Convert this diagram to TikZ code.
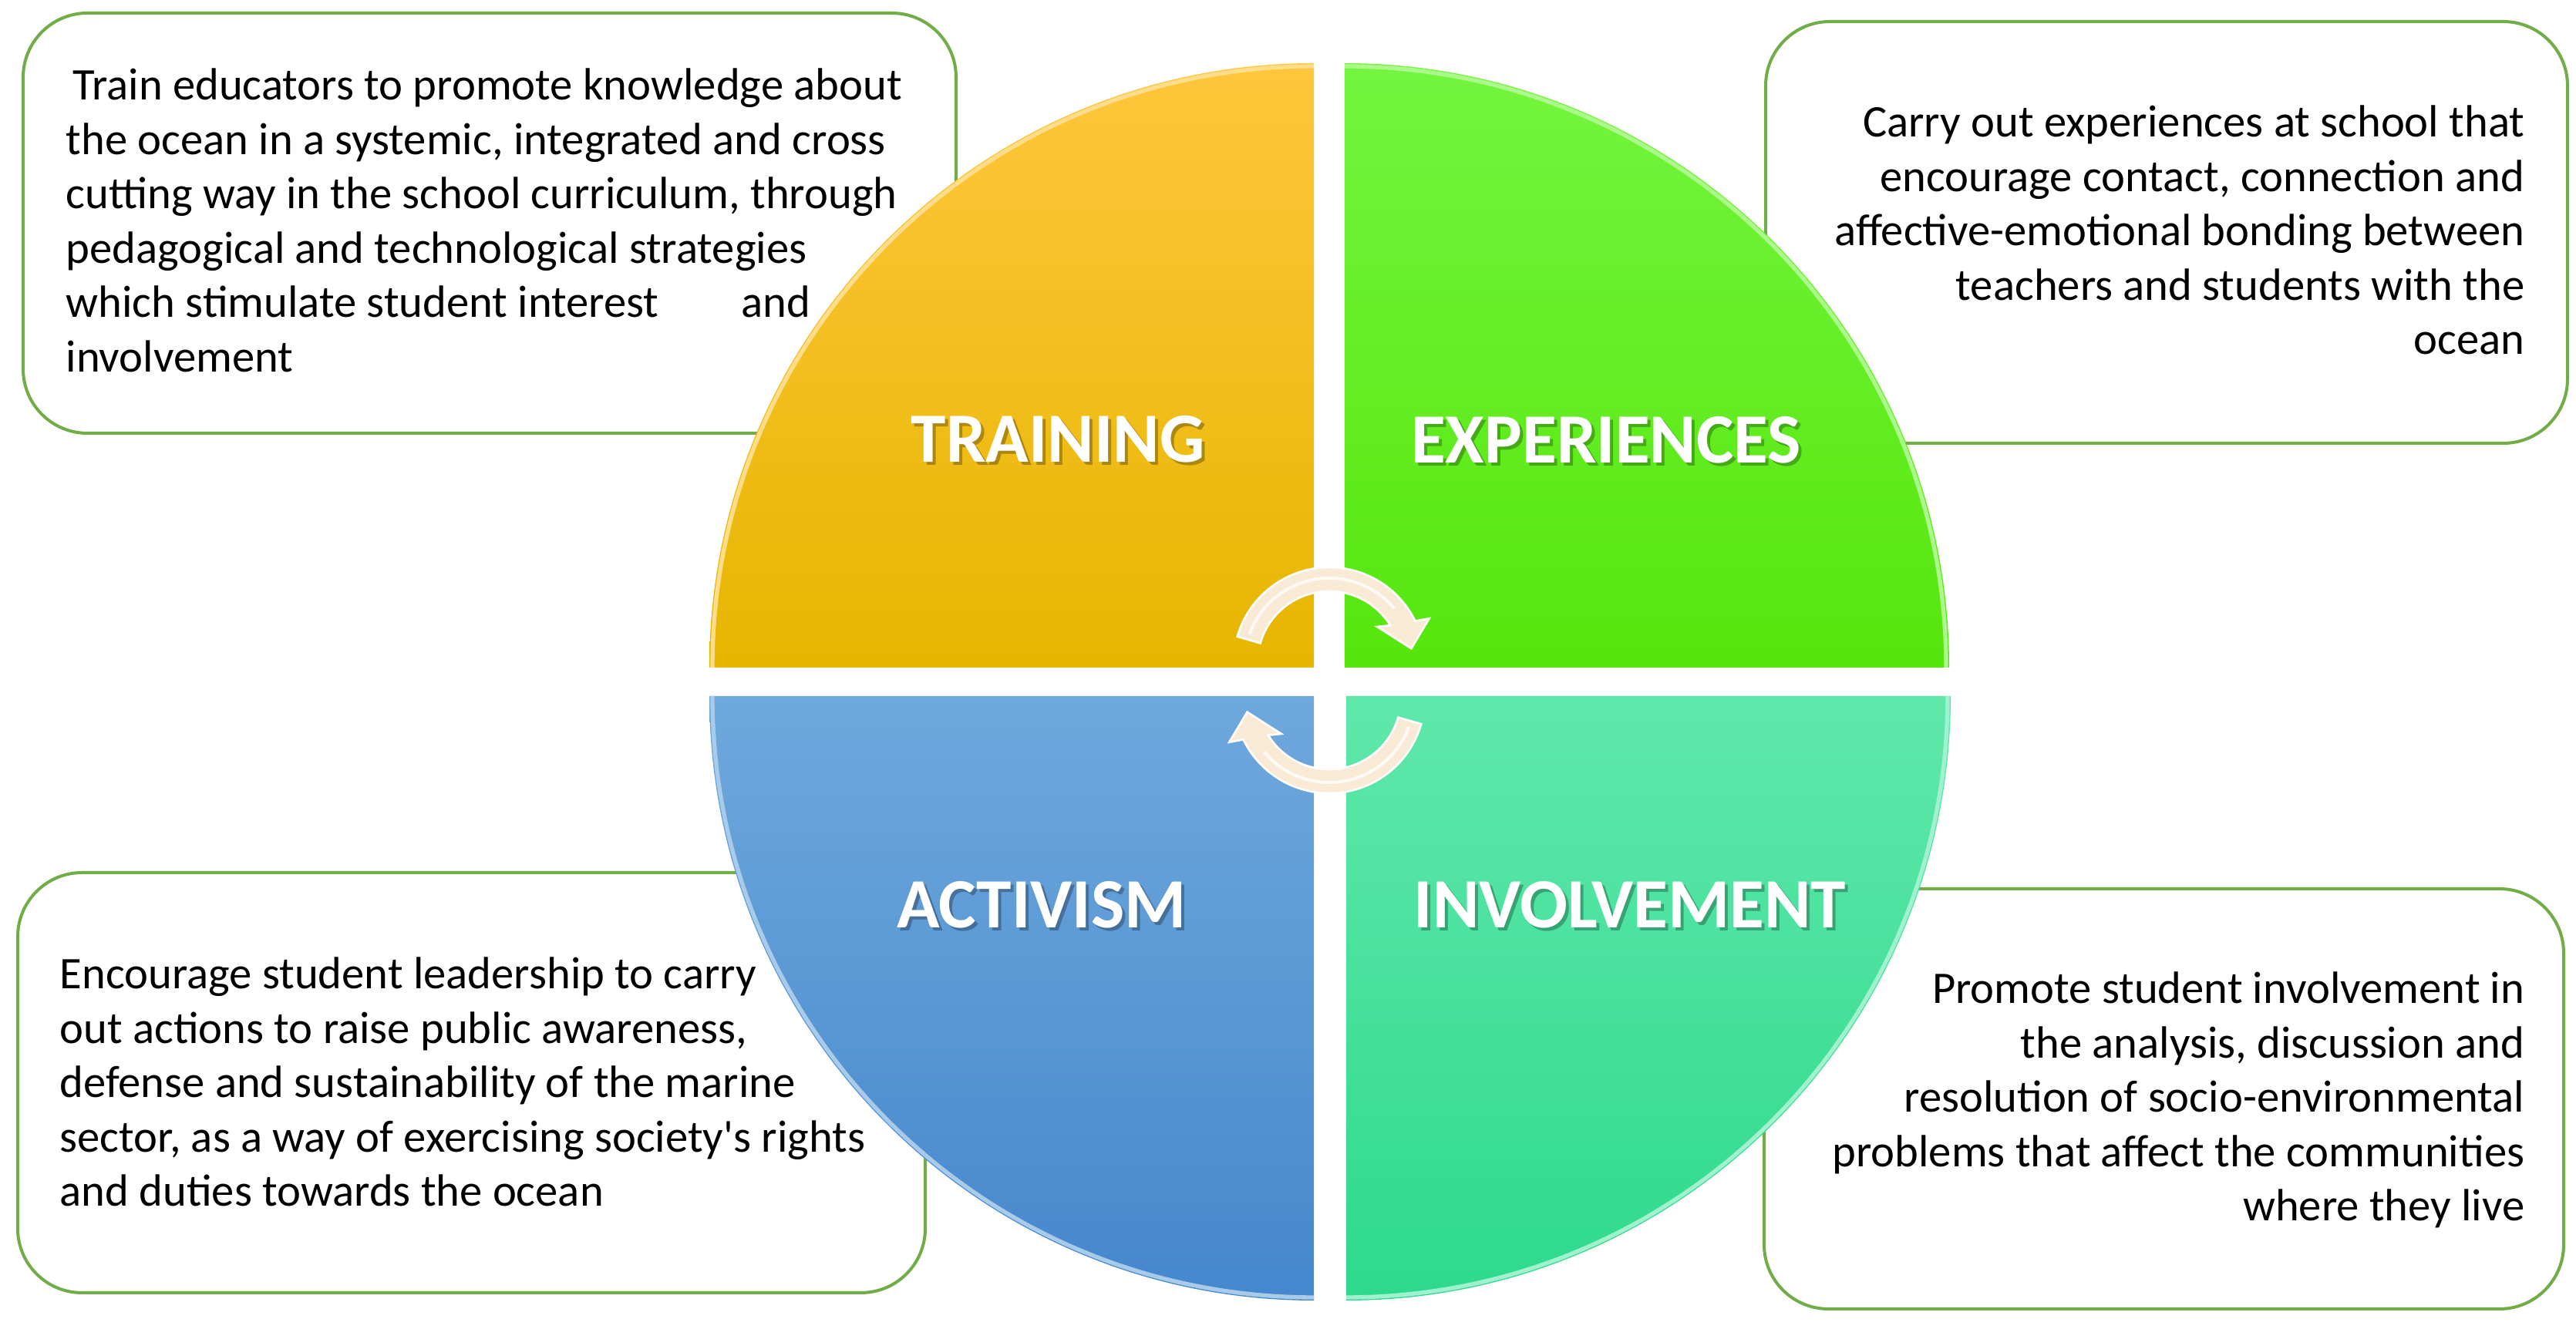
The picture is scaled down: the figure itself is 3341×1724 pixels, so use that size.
\documentclass[tikz,border=0pt]{standalone}
\usepackage{fontspec}
\setmainfont{Carlito}
\usetikzlibrary{calc}
\definecolor{boxgreen}{HTML}{70AD47}
\definecolor{ytop}{HTML}{FFC63C}
\definecolor{ymid}{HTML}{FFC108}
\definecolor{ybot}{HTML}{E6B600}
\definecolor{gtop}{HTML}{74F53E}
\definecolor{gmid}{HTML}{5EEE1E}
\definecolor{gbot}{HTML}{55E60C}
\definecolor{btop}{HTML}{6FA8DC}
\definecolor{bmid}{HTML}{5A9CDA}
\definecolor{bbot}{HTML}{4587CD}
\definecolor{ttop}{HTML}{60E8AB}
\definecolor{tmid}{HTML}{42E39C}
\definecolor{tbot}{HTML}{2DD98C}
\definecolor{cream}{HTML}{F9EAD5}
\tikzset{
  infobox/.style={draw=boxgreen, line width=1.2pt, rounded corners=25pt, fill=white},
  bodytext/.style={inner sep=0pt, text=black, font=\fontsize{17.6pt}{21.15pt}\selectfont},
  quadlabel/.style={inner sep=0pt, text=white, font=\fontsize{27.5pt}{31pt}\selectfont\bfseries},
  quadshadow/.style={inner sep=0pt, text=black, text opacity=0.28, font=\fontsize{27.5pt}{31pt}\selectfont\bfseries},
  cyclearrow/.style={fill=cream, draw=white, line width=0.8pt},
  arrowshadow/.style={fill=black, opacity=0.18},
}
\begin{document}
\begin{tikzpicture}[x=0.3pt,y=0.3pt]
\useasboundingbox (0,0) rectangle (3341,1724);
\fill[white] (0,0) rectangle (3341,1724);

% text boxes (behind the circle)
\draw[infobox] (30,1707) rectangle (1240,1162);
\draw[infobox] (2290,1696) rectangle (3330,1149);
\draw[infobox] (23,592) rectangle (1200,47);
\draw[infobox] (2288,571) rectangle (3325,26);

% quadrant corners
\coordinate (cy) at (1704,858);
\coordinate (cg) at (1744,858);
\coordinate (cbl) at (1704,821);
\coordinate (ct) at (1746,821);

% quadrants
\shade[top color=ytop, middle color=ymid, bottom color=ybot]
  (cy) -- ++(0,784) arc[start angle=90, end angle=180, radius=784] -- cycle;
\shade[top color=gtop, middle color=gmid, bottom color=gbot]
  (cg) -- ++(784,0) arc[start angle=0, end angle=90, radius=784] -- cycle;
\shade[top color=btop, middle color=bmid, bottom color=bbot]
  (cbl) -- ++(-784,0) arc[start angle=180, end angle=270, radius=784] -- cycle;
\shade[top color=ttop, middle color=tmid, bottom color=tbot]
  (ct) -- ++(0,-784) arc[start angle=270, end angle=360, radius=784] -- cycle;

% rim highlights
\draw[line width=1.6pt, color=ytop!60!white] ($(cy)+(90:780)$) arc[start angle=90, end angle=180, radius=780];
\draw[line width=1.6pt, color=gtop!60!white] ($(cg)+(0:780)$) arc[start angle=0, end angle=90, radius=780];
\draw[line width=1.6pt, color=btop!60!white] ($(cbl)+(180:780)$) arc[start angle=180, end angle=270, radius=780];
\draw[line width=1.6pt, color=ttop!60!white] ($(ct)+(270:780)$) arc[start angle=270, end angle=360, radius=780];

% cycle arrows
\coordinate (ca) at (1724,864);
\coordinate (cb) at (1724,819);
\begin{scope}[shift={(5,-6)}]
\fill[arrowshadow] ($(ca)+(164:124)$) arc[start angle=164, end angle=26, radius=124]
  -- ($(ca)+(24:142)$) -- ($(ca)+(10:108)$) -- ($(ca)+(37:78)$) -- ($(ca)+(31.6:93)$)
  arc[start angle=31.6, end angle=164, radius=93] -- cycle;
\fill[arrowshadow] ($(cb)+(344:124)$) arc[start angle=344, end angle=206, radius=124]
  -- ($(cb)+(204:142)$) -- ($(cb)+(190:108)$) -- ($(cb)+(217:78)$) -- ($(cb)+(211.6:93)$)
  arc[start angle=211.6, end angle=344, radius=93] -- cycle;
\end{scope}
\filldraw[cyclearrow] ($(ca)+(164:124)$) arc[start angle=164, end angle=26, radius=124]
  -- ($(ca)+(24:142)$) -- ($(ca)+(10:108)$) -- ($(ca)+(37:78)$) -- ($(ca)+(31.6:93)$)
  arc[start angle=31.6, end angle=164, radius=93] -- cycle;
\filldraw[cyclearrow] ($(cb)+(344:124)$) arc[start angle=344, end angle=206, radius=124]
  -- ($(cb)+(204:142)$) -- ($(cb)+(190:108)$) -- ($(cb)+(217:78)$) -- ($(cb)+(211.6:93)$)
  arc[start angle=211.6, end angle=344, radius=93] -- cycle;
\draw[white, line width=1.2pt, opacity=0.8] ($(ca)+(160:110)$) arc[start angle=160, end angle=40, radius=110];
\draw[white, line width=1.2pt, opacity=0.8] ($(cb)+(340:110)$) arc[start angle=340, end angle=220, radius=110];

% quadrant labels
\node[quadshadow] (lts) at (1376,1150) {TRAINING};
\node[quadlabel] (lt) at (1372,1154) {TRAINING};
\node[quadshadow] (les) at (2087,1149) {EXPERIENCES};
\node[quadlabel] (le) at (2083,1153) {EXPERIENCES};
\node[quadshadow] (las) at (1355,546) {ACTIVISM};
\node[quadlabel] (la) at (1351,550) {ACTIVISM};
\node[quadshadow] (lis) at (2118,546) {INVOLVEMENT};
\node[quadlabel] (li) at (2114,550) {INVOLVEMENT};

% box texts
\node[bodytext, anchor=base west] (tl) at (85,1594) {\begin{tabular}[t]{@{}l@{}}
\hspace*{2.6pt}Train educators to promote knowledge about\\
the ocean in a systemic, integrated and cross\\
cutting way in the school curriculum, through\\
pedagogical and technological strategies\\
which stimulate student interest\hspace{28pt} and\\
involvement
\end{tabular}};
\node[bodytext, anchor=base east] (tr) at (3275,1546) {\begin{tabular}[t]{@{}r@{}}
Carry out experiences at school that\\
encourage contact, connection and\\
affective-emotional bonding between\\
teachers and students with the\\
ocean
\end{tabular}};
\node[bodytext, anchor=base west] (bl) at (77,441) {\begin{tabular}[t]{@{}l@{}}
Encourage student leadership to carry\\
out actions to raise public awareness,\\
defense and sustainability of the marine\\
sector, as a way of exercising society\textquotesingle s rights\\
and duties towards the ocean
\end{tabular}};
\node[bodytext, anchor=base east] (br) at (3275,422) {\begin{tabular}[t]{@{}r@{}}
Promote student involvement in\\
the analysis, discussion and\\
resolution of socio-environmental\\
problems that affect the communities\\
where they live
\end{tabular}};
\end{tikzpicture}
\end{document}
